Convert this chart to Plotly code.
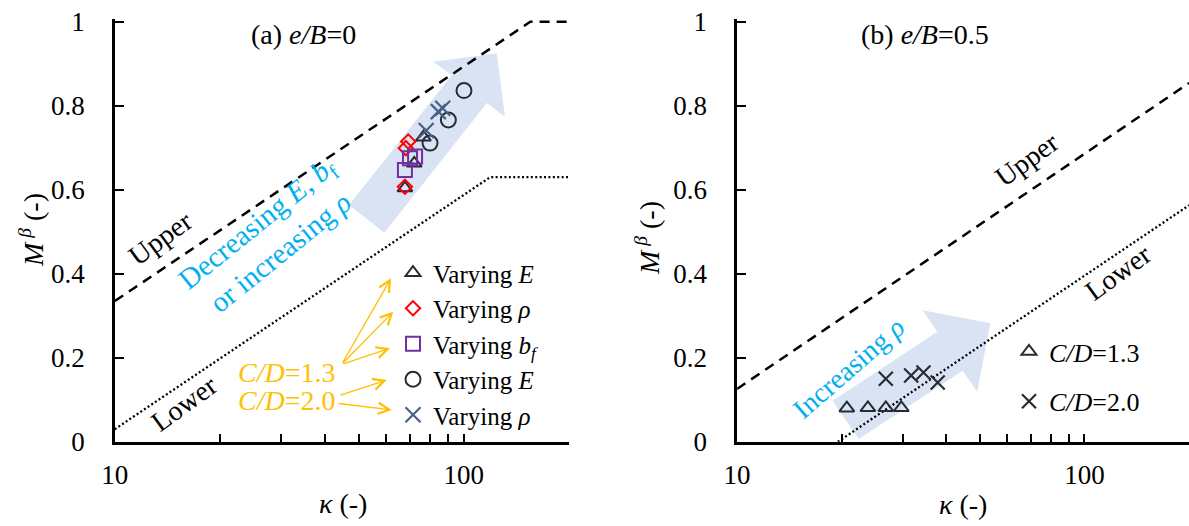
import math
import plotly.graph_objects as go

W, H = 1189, 526
FONT = "Liberation Serif"

# ---------------- data: panel (a) e/B = 0 ----------------
kappa_a_varyE_13 = [67.8, 72.1, 76.6]
mb_a_varyE_13 = [0.604, 0.663, 0.725]
kappa_a_varyRho_13 = [67.8, 68.2, 69.3]
mb_a_varyRho_13 = [0.607, 0.699, 0.715]
kappa_a_varyBf_13 = [67.8, 70.1, 72.5]
mb_a_varyBf_13 = [0.647, 0.675, 0.679]
kappa_a_varyE_20 = [80.0, 90.3, 100.1]
mb_a_varyE_20 = [0.711, 0.766, 0.836]
kappa_a_varyRho_20 = [78.0, 84.5, 87.0]
mb_a_varyRho_20 = [0.741, 0.786, 0.794]

# bounds panel (a)
upper_a_kappa = [10, 155, 200]
upper_a_mb = [0.335, 1.0, 1.0]
lower_a_kappa = [10, 119, 200]
lower_a_mb = [0.03, 0.63, 0.63]

# ---------------- data: panel (b) e/B = 0.5 ----------------
kappa_b_13 = [20.7, 23.8, 26.8, 29.7]
mb_b_13 = [0.080, 0.081, 0.081, 0.081]
kappa_b_20 = [26.8, 31.7, 34.4, 37.8]
mb_b_20 = [0.150, 0.158, 0.165, 0.141]

upper_b_kappa = [10, 200]
upper_b_mb = [0.126, 0.854]
lower_b_kappa = [19.5, 200]
lower_b_mb = [0.0, 0.563]

# trend arrows (block arrow outlines in data space)
arrow_a_kappa = [46.9, 92.3, 81.8, 124.3, 131.2, 116.4, 59.2, 46.9]
arrow_a_mb = [0.5636, 0.8726, 0.905, 0.925, 0.774, 0.8064, 0.4974, 0.5636]
arrow_b_kappa = [18.84, 37.7, 34.2, 53.6, 49.1, 44.6, 22.4, 18.84]
arrow_b_mb = [0.098, 0.2622, 0.3131, 0.2822, 0.119, 0.1694, 0.0064, 0.098]

# ticks
x_tickvals = [10, 20, 30, 40, 50, 60, 70, 80, 90, 100, 200]
x_ticktext = ["10", "", "", "", "", "", "", "", "", "100", ""]
y_tickvals = [0, 0.2, 0.4, 0.6, 0.8, 1.0]
y_ticktext = ["0", "0.2", "0.4", "0.6", "0.8", "1"]

ARROW_FILL = "#dae3f3"
DARK = "#262b35"
XBLUE = "#46608a"
RED = "#ff0000"
PURPLE = "#7030a0"
CYAN = "#00b0f0"
GOLD = "#ffc000"

fig = go.Figure()

# arrows (below everything)
fig.add_trace(go.Scatter(x=arrow_a_kappa, y=arrow_a_mb, mode="lines", fill="toself",
                         fillcolor=ARROW_FILL, line=dict(width=0, color=ARROW_FILL),
                         showlegend=False, hoverinfo="skip", xaxis="x", yaxis="y"))
fig.add_trace(go.Scatter(x=arrow_b_kappa, y=arrow_b_mb, mode="lines", fill="toself",
                         fillcolor=ARROW_FILL, line=dict(width=0, color=ARROW_FILL),
                         showlegend=False, hoverinfo="skip", xaxis="x2", yaxis="y2"))

# bound lines
DASH = "10px,7px"
DOT = "2px,2.4px"
fig.add_trace(go.Scatter(x=upper_a_kappa, y=upper_a_mb, mode="lines",
                         line=dict(color="black", width=2.5, dash=DASH),
                         showlegend=False, hoverinfo="skip", xaxis="x", yaxis="y"))
fig.add_trace(go.Scatter(x=lower_a_kappa, y=lower_a_mb, mode="lines",
                         line=dict(color="black", width=2.3, dash=DOT),
                         showlegend=False, hoverinfo="skip", xaxis="x", yaxis="y"))
fig.add_trace(go.Scatter(x=upper_b_kappa, y=upper_b_mb, mode="lines",
                         line=dict(color="black", width=2.5, dash=DASH),
                         showlegend=False, hoverinfo="skip", xaxis="x2", yaxis="y2"))
fig.add_trace(go.Scatter(x=lower_b_kappa, y=lower_b_mb, mode="lines",
                         line=dict(color="black", width=2.3, dash=DOT),
                         showlegend=False, hoverinfo="skip", xaxis="x2", yaxis="y2"))

# markers panel (a)
def mk(symbol, size, color, lw=2):
    return dict(symbol=symbol, size=size, color=color, line=dict(color=color, width=lw))

fig.add_trace(go.Scatter(x=kappa_a_varyE_13, y=mb_a_varyE_13, mode="markers",
                         marker=mk("triangle-up-open", 13, DARK), name="Varying <i>E</i>",
                         legend="legend", xaxis="x", yaxis="y"))
fig.add_trace(go.Scatter(x=kappa_a_varyRho_13, y=mb_a_varyRho_13, mode="markers",
                         marker=mk("diamond-open", 11, RED), name="Varying <i>ρ</i>",
                         legend="legend", xaxis="x", yaxis="y"))
fig.add_trace(go.Scatter(x=kappa_a_varyBf_13, y=mb_a_varyBf_13, mode="markers",
                         marker=mk("square-open", 14, PURPLE), name="Varying <i>b<sub>f</sub></i>",
                         legend="legend", xaxis="x", yaxis="y"))
fig.add_trace(go.Scatter(x=kappa_a_varyE_20, y=mb_a_varyE_20, mode="markers",
                         marker=mk("circle-open", 15, DARK), name="Varying <i>E</i>",
                         legend="legend", xaxis="x", yaxis="y"))
fig.add_trace(go.Scatter(x=kappa_a_varyRho_20, y=mb_a_varyRho_20, mode="markers",
                         marker=mk("x-thin-open", 15, XBLUE, 2.2), name="Varying <i>ρ</i>",
                         legend="legend", xaxis="x", yaxis="y"))

# markers panel (b)
fig.add_trace(go.Scatter(x=kappa_b_13, y=mb_b_13, mode="markers",
                         marker=mk("triangle-up-open", 13, DARK), name="<i>C/D</i>=1.3",
                         legend="legend2", legendgroup="g1", xaxis="x2", yaxis="y2"))
fig.add_trace(go.Scatter(x=kappa_b_20, y=mb_b_20, mode="markers",
                         marker=mk("x-thin-open", 14, DARK, 2.2), name="<i>C/D</i>=2.0",
                         legend="legend2", legendgroup="g2", xaxis="x2", yaxis="y2"))

# ---------------- layout ----------------
y_dom = [1 - 441.8 / H, 1 - 19.2 / H]
xa_dom = [114.8 / W, 568.9 / W]
xb_dom = [737.1 / W, 1.0]

TICKSIZE = 27

def xaxis(domain, anchor):
    return dict(type="log", range=[1, math.log10(200)], domain=domain, anchor=anchor,
                automargin=False,
                showline=True, linecolor="black", linewidth=2.5, mirror=False,
                ticks="inside", ticklen=8, tickwidth=2, tickcolor="black",
                tickmode="array", tickvals=x_tickvals, ticktext=x_ticktext,
                showgrid=False, zeroline=False, ticklabelstandoff=7,
                tickfont=dict(family=FONT, size=TICKSIZE, color="black"))

def yaxis(anchor):
    return dict(range=[0, 1.006], domain=y_dom, anchor=anchor,
                automargin=False,
                showline=True, linecolor="black", linewidth=2.5, mirror=False,
                ticks="inside", ticklen=9, tickwidth=2, tickcolor="black",
                tickmode="array", tickvals=y_tickvals, ticktext=y_ticktext,
                showgrid=False, zeroline=False, ticklabelstandoff=22,
                tickfont=dict(family=FONT, size=TICKSIZE, color="black"))

def P(px, py):
    return px / W, 1 - py / H

annotations = []

def text(px, py, s, size=28, color="black", angle=0, align="center"):
    x, y = P(px, py)
    annotations.append(dict(x=x, y=y, xref="paper", yref="paper", text=s, showarrow=False,
                            xanchor="center", yanchor="middle", textangle=angle, align=align,
                            font=dict(family=FONT, size=size, color=color)))

text(303, 35, "(a) <i>e/B</i>=0")
text(925, 35, "(b) <i>e/B</i>=0.5")
text(31, 230, "<i>M</i><sup> <i>β</i></sup> (-)", angle=-90)
text(647, 238, "<i>M</i><sup> <i>β</i></sup> (-)", angle=-90)
text(342.5, 503, "<i>κ</i> (-)")
text(962.5, 504, "<i>κ</i> (-)")
text(160, 238, "Upper", angle=-36)
text(184, 403, "Lower", angle=-36)
text(1027, 160, "Upper", angle=-36)
text(1118, 272, "Lower", angle=-36)
text(268, 238, "Decreasing <i>E</i>, <i>b</i><sub>f</sub><br>or increasing <i>ρ</i>",
     size=29, color=CYAN, angle=-39)
text(848, 368, "Increasing <i>ρ</i>", color=CYAN, angle=-41)
text(286, 372, "<i>C/D</i>=1.3", color=GOLD)
text(286, 400, "<i>C/D</i>=2.0", color=GOLD)

# gold pointer arrows: (tail px, tail py, head px, head py)
pointers = [
    (341.7, 364.3, 391.0, 278.3),
    (341.7, 364.3, 393.3, 311.7),
    (341.7, 364.3, 390.0, 348.3),
    (339.0, 395.7, 386.7, 380.0),
    (337.3, 403.3, 391.7, 410.0),
]
for tx, ty, hx, hy in pointers:
    x, y = P(hx, hy)
    annotations.append(dict(x=x, y=y, xref="paper", yref="paper", text="", showarrow=True,
                            ax=tx - hx, ay=ty - hy, axref="pixel", ayref="pixel",
                            arrowhead=5, arrowsize=1.7, arrowwidth=1.3, arrowcolor=GOLD,
                            standoff=0, startstandoff=0))

fig.update_layout(
    template="none",
    width=W, height=H, autosize=False,
    margin=dict(l=0, r=0, t=0, b=0, pad=0),
    paper_bgcolor="white", plot_bgcolor="white",
    xaxis=xaxis(xa_dom, "y"), yaxis=yaxis("x"),
    xaxis2=xaxis(xb_dom, "y2"), yaxis2=yaxis("x2"),
    showlegend=True,
    legend=dict(x=393 / W, y=1 - 250 / H, xanchor="left", yanchor="top",
                bgcolor="rgba(0,0,0,0)", borderwidth=0, tracegroupgap=0,
                font=dict(family=FONT, size=25, color="black"), itemsizing="trace"),
    legend2=dict(x=1009 / W, y=1 - 328 / H, xanchor="left", yanchor="top",
                 bgcolor="rgba(0,0,0,0)", borderwidth=0, tracegroupgap=13,
                 font=dict(family=FONT, size=26, color="black"), itemsizing="trace"),
    annotations=annotations,
    font=dict(family=FONT, size=26, color="black"),
)

fig.write_html("out.html", config={"displayModeBar": False},
               post_script="document.body.style.margin='0';document.body.style.overflow='hidden';")
